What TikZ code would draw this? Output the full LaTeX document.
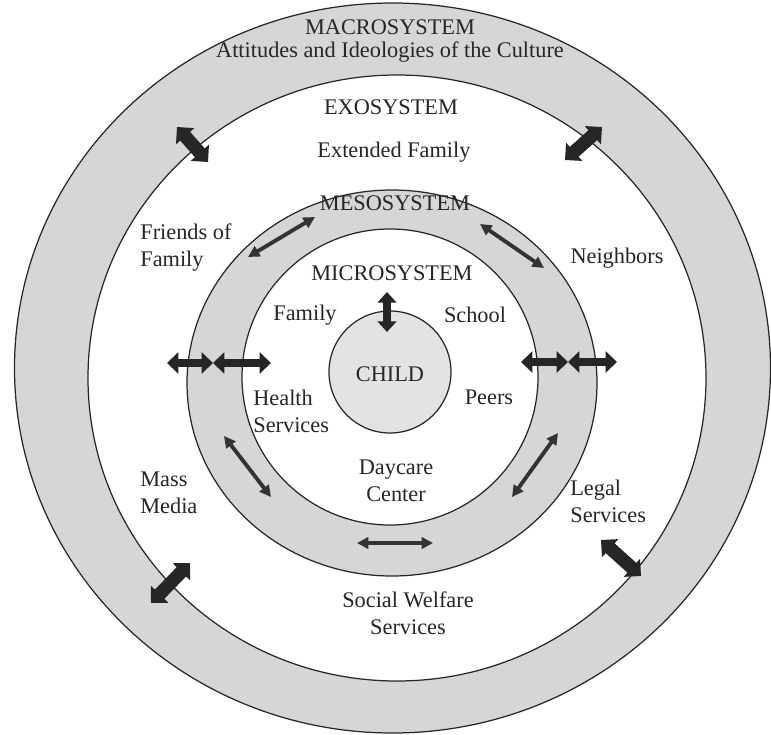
\documentclass[tikz,border=0pt]{standalone}
\usepackage{fontspec}
\setmainfont{Liberation Serif}
\usetikzlibrary{arrows.meta, positioning}
\tikzstyle{ring} = [draw=black!85, line width=0.7pt, fill=black!16]
\tikzstyle{hole} = [draw=black!85, line width=0.7pt, fill=white]
\tikzstyle{txt} = [font=\fontsize{12.7}{15.5}\selectfont, text=black!85, inner sep=0pt]
\tikzstyle{bigarrow} = [draw=black!85, line width=7.5pt, {Triangle[length=7pt,width=13.5pt]}-{Triangle[length=7pt,width=13.5pt]}]
\tikzstyle{midarrow} = [draw=black!85, line width=4.8pt, {Triangle[length=6.5pt,width=12pt]}-{Triangle[length=6.5pt,width=12pt]}]
\tikzstyle{thinarrow} = [draw=black!80, line width=2.2pt, {Triangle[length=6.5pt,width=6.5pt]}-{Triangle[length=6.5pt,width=6.5pt]}]

\begin{document}
\begin{tikzpicture}[x=0.02cm, y=-0.02cm]
        \useasboundingbox (0,0) rectangle (771,734);

        % the systems
        \draw[ring] (392.5,368) ellipse [x radius=378, y radius=365];
        \draw[hole] (397,378) ellipse [x radius=309, y radius=303];
        \draw[ring] (392,383) ellipse [x radius=205, y radius=193];
        \draw[hole] (390,377) ellipse [x radius=148, y radius=148];
        \draw[ring, fill=black!11] (390,372) circle [radius=61];

        \node[txt] (macro) at (390,27) {MACROSYSTEM};
        \node[txt, below=14pt of macro.center, anchor=center] (culture) {Attitudes and Ideologies of the Culture};
        \node[txt] (exo) at (391,107) {EXOSYSTEM};
        \node[txt] (extended) at (394,152) {Extended Family};
        \node[txt] (meso) at (395,203) {MESOSYSTEM};
        \node[txt] (micro) at (392,273) {MICROSYSTEM};
        \node[txt] (child) at (390,374) {CHILD};

        \node[txt, align=left, anchor=west] (friends) at (140,247.5) {Friends of\\Family};
        \node[txt] (neighbors) at (617,258) {Neighbors};
        \node[txt] (family) at (305,315) {Family};
        \node[txt] (school) at (475,315) {School};
        \node[txt, align=left, anchor=west] (health) at (253,411) {Health\\Services};
        \node[txt] (peers) at (489,397) {Peers};
        \node[txt, align=center] (daycare) at (396,481) {Daycare\\Center};
        \node[txt, align=left, anchor=west] (media) at (140,493) {Mass\\Media};
        \node[txt, align=left, anchor=west] (legal) at (570,501) {Legal\\Services};
        \node[txt, align=center] (welfare) at (408,613) {Social Welfare\\Services};

        % arrow ends
        \coordinate (nwA) at (177,127);  \coordinate (nwB) at (208,162);
        \coordinate (neA) at (602,127);  \coordinate (neB) at (565,160);
        \coordinate (swA) at (190,563);  \coordinate (swB) at (151,603);
        \coordinate (seA) at (601,540);  \coordinate (seB) at (641,576);
        \coordinate (wA) at (167,363);   \coordinate (wB) at (213,363);   \coordinate (wC) at (271,363);
        \coordinate (eA) at (521,362);   \coordinate (eB) at (568,362);   \coordinate (eC) at (617,362);
        \coordinate (topA) at (387,292); \coordinate (topB) at (387,332);
        \coordinate (m1A) at (315,217);  \coordinate (m1B) at (248,257);
        \coordinate (m2A) at (480,224);  \coordinate (m2B) at (544,268);
        \coordinate (m3A) at (224,436);  \coordinate (m3B) at (271,497);
        \coordinate (m4A) at (558,433);  \coordinate (m4B) at (512,497);
        \coordinate (m5A) at (357,543);  \coordinate (m5B) at (433,543);

        \draw[bigarrow] (nwA) -- (nwB);
        \draw[bigarrow] (neA) -- (neB);
        \draw[bigarrow] (swA) -- (swB);
        \draw[bigarrow] (seA) -- (seB);

        \draw[midarrow] (wA) -- (wB);
        \draw[midarrow] (wB) -- (wC);
        \draw[midarrow] (eA) -- (eB);
        \draw[midarrow] (eB) -- (eC);
        \draw[midarrow, line width=4.5pt, {Triangle[length=6pt,width=10.5pt]}-{Triangle[length=6pt,width=10.5pt]}] (topA) -- (topB);

        \draw[thinarrow] (m1A) -- (m1B);
        \draw[thinarrow] (m2A) -- (m2B);
        \draw[thinarrow] (m3A) -- (m3B);
        \draw[thinarrow] (m4A) -- (m4B);
        \draw[thinarrow] (m5A) -- (m5B);

    \end{tikzpicture}
\end{document}
